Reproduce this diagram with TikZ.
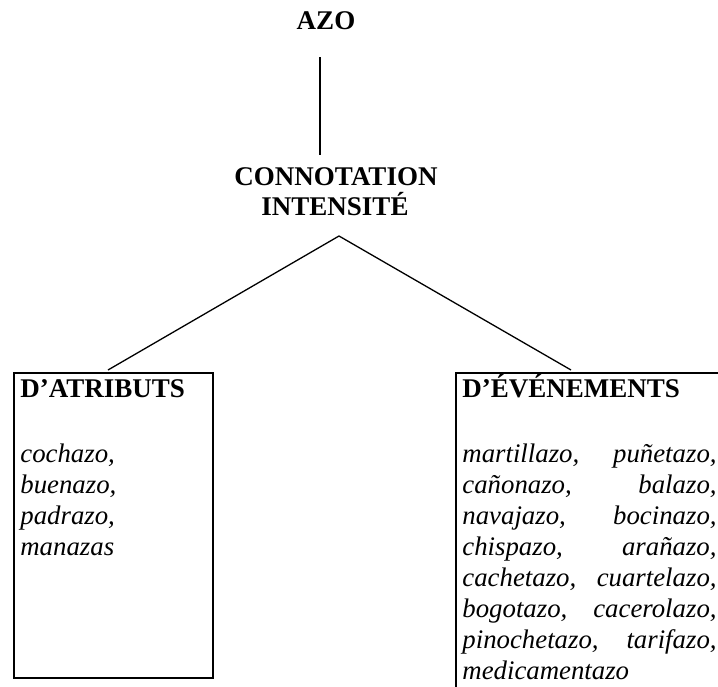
\documentclass[tikz,border=0pt]{standalone}
\usepackage{fontspec}
\setmainfont{Liberation Serif}
\begin{document}
\begin{tikzpicture}[x=0.5pt,y=-0.5pt,
  hd/.style={inner sep=0pt, font=\fontsize{13.5}{15}\selectfont\bfseries},
  wd/.style={inner sep=0pt, font=\fontsize{13.4}{15}\selectfont\itshape},
  boxnode/.style={draw, line width=1pt, inner sep=0pt, anchor=north west},
  treeline/.style={line width=0.65pt}]
\clip (0,0) rectangle (718,686);
\path[fill=white] (0,0) rectangle (718,686);

% titles
\node[hd, anchor=base] (azo) at (326,29) {AZO};
\node[hd, anchor=base] (conn1) at (336,185) {CONNOTATION};
\node[hd, anchor=base] (conn2) at (335,215) {INTENSITÉ};

% boxes
\node[boxnode, minimum width=99.5pt, minimum height=152.5pt] (attr) at (13,372) {};
\node[boxnode, minimum width=160pt, minimum height=180pt] (evt) at (455,372) {};

% connectors
\coordinate (vtop) at (320,57);
\coordinate (vbot) at (320,155);
\coordinate (apex) at (339,236);
\coordinate (lend) at (108,370);
\coordinate (rend) at (571,370);
\draw[treeline] (vtop) -- (vbot);
\draw[treeline] (lend) -- (apex) -- (rend);

% left box content
\node[hd, anchor=base west] (attrh) at (20,397) {D’ATRIBUTS};
\node[wd, anchor=base west] (a1) at (20,462) {cochazo,};
\node[wd, anchor=base west] (a2) at (20,493) {buenazo,};
\node[wd, anchor=base west] (a3) at (20,524) {padrazo,};
\node[wd, anchor=base west] (a4) at (20,555) {manazas};

% right box content
\node[hd, anchor=base west] (evth) at (462,397) {D’ÉVÉNEMENTS};
\node[wd, anchor=base west] (e1l) at (462,462) {martillazo,};
\node[wd, anchor=base east] (e1r) at (717,462) {puñetazo,};
\node[wd, anchor=base west] (e2l) at (462,493) {cañonazo,};
\node[wd, anchor=base east] (e2r) at (717,493) {balazo,};
\node[wd, anchor=base west] (e3l) at (462,524) {navajazo,};
\node[wd, anchor=base east] (e3r) at (717,524) {bocinazo,};
\node[wd, anchor=base west] (e4l) at (462,555) {chispazo,};
\node[wd, anchor=base east] (e4r) at (717,555) {arañazo,};
\node[wd, anchor=base west] (e5l) at (462,586) {cachetazo,};
\node[wd, anchor=base east] (e5r) at (717,586) {cuartelazo,};
\node[wd, anchor=base west] (e6l) at (462,617) {bogotazo,};
\node[wd, anchor=base east] (e6r) at (717,617) {cacerolazo,};
\node[wd, anchor=base west] (e7l) at (462,648) {pinochetazo,};
\node[wd, anchor=base east] (e7r) at (717,648) {tarifazo,};
\node[wd, anchor=base west] (e8l) at (462,679) {medicamentazo};
\end{tikzpicture}
\end{document}
